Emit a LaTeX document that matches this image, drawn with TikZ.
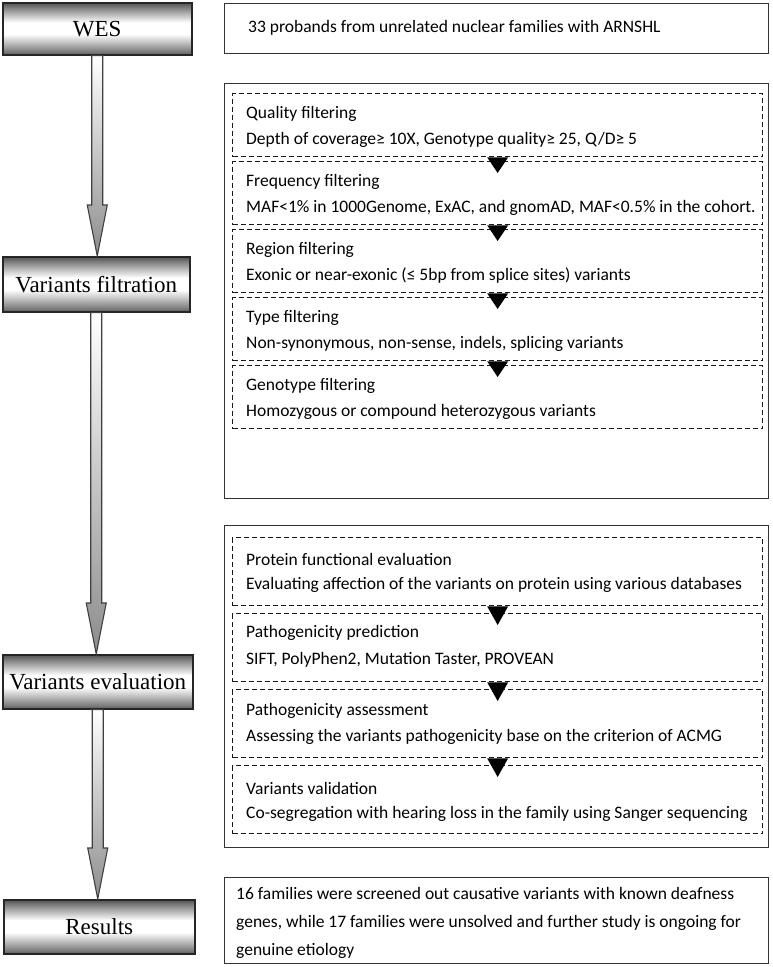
\documentclass[tikz,border=0pt]{standalone}
\usepackage{fontspec}
\setmainfont{Carlito}
\newfontfamily\serifl{Liberation Serif}
\usetikzlibrary{calc}
\pgfdeclareverticalshading{boxshade}{100bp}{color(0bp)=(black!70); color(25bp)=(black!70); color(27bp)=(black!55); color(35bp)=(black!30); color(45bp)=(white); color(56bp)=(white); color(69bp)=(black!45); color(75bp)=(black!68); color(100bp)=(black!68)}
\newcommand\stagearrow[2]{%
  \path[bigarrow] let \p1=(#1.south), \p2=(#2.north) in
    (\x1-5.5pt,\y1) -- (\x1+5.5pt,\y1) -- (\x1+5.5pt,\y2+51pt) -- (\x1+10pt,\y2+51pt)
    -- (\x1,\y2) -- (\x1-10pt,\y2+51pt) -- (\x1-5.5pt,\y2+51pt) -- cycle;}
\newcommand\steptri[2]{%
  \fill let \p1=(#1.south), \p2=(#2.north) in
    (\x1-10.5pt,\y1) -- (\x1+10.5pt,\y1) -- (\x1,\y2-12pt) -- cycle;}
\begin{document}
\begin{tikzpicture}[x=1pt,y=-1pt,
  stage/.style={draw=black!85, line width=1.5pt, shade, shading=boxshade, anchor=north west,
    inner sep=0pt, font=\serifl\fontsize{23}{27}\selectfont},
  panel/.style={draw=black!80, line width=1.4pt, anchor=north west, inner sep=0pt, minimum width=544pt},
  dbox/.style={draw=black!90, line width=1.3pt, dash pattern=on 5pt off 3pt, anchor=north west,
    inner sep=0pt, minimum width=530pt},
  txt/.style={anchor=west, inner sep=0pt, font=\fontsize{17.5}{20}\selectfont},
  bigarrow/.style={draw=black!75, line width=1.1pt, top color=white, bottom color=black!45}
]
\useasboundingbox (0,0) rectangle (772,967);

% left stages
\node[stage, minimum width=189pt, minimum height=52pt] (wes) at (2,2) {WES};
\node[stage, minimum width=187pt, minimum height=55pt] (vf) at (2,256) {Variants filtration};
\node[stage, minimum width=190pt, minimum height=54pt] (ve) at (2,654) {Variants evaluation};
\node[stage, minimum width=191pt, minimum height=54pt] (rs) at (3,899) {Results};

\stagearrow{wes}{vf}
\stagearrow{vf}{ve}
\stagearrow{ve}{rs}

% right panels
\node[panel, minimum height=50pt] (top) at (224,3) {};
\node[txt] (toptxt) at (248,28) {33 probands from unrelated nuclear families with ARNSHL};

\node[panel, minimum height=415pt] (filt) at (224,83) {};
\node[dbox, minimum height=63pt] (f1) at (232,93) {};
\node[dbox, minimum height=63pt] (f2) at (232,161) {};
\node[dbox, minimum height=63pt] (f3) at (232,229) {};
\node[dbox, minimum height=63pt] (f4) at (232,297) {};
\node[dbox, minimum height=63pt] (f5) at (232,365) {};
\node[txt] (f1a) at (246,114) {Quality filtering};
\node[txt] (f1b) at (246,140) {Depth of coverage≥ 10X, Genotype quality≥ 25, Q/D≥ 5};
\node[txt] (f2a) at (246,182) {Frequency filtering};
\node[txt] (f2b) at (246,208) {MAF<1\% in 1000Genome, ExAC, and gnomAD, MAF<0.5\% in the cohort.};
\node[txt] (f3a) at (246,250) {Region filtering};
\node[txt] (f3b) at (246,276) {Exonic or near-exonic (≤ 5bp from splice sites) variants};
\node[txt] (f4a) at (246,318) {Type filtering};
\node[txt] (f4b) at (246,344) {Non-synonymous, non-sense, indels, splicing variants};
\node[txt] (f5a) at (246,386) {Genotype filtering};
\node[txt] (f5b) at (246,412) {Homozygous or compound heterozygous variants};
\steptri{f1}{f2}
\steptri{f2}{f3}
\steptri{f3}{f4}
\steptri{f4}{f5}

\node[panel, minimum height=322pt] (eval) at (224,525) {};
\node[dbox, minimum height=68pt] (e1) at (232,537) {};
\node[dbox, minimum height=68pt] (e2) at (232,613) {};
\node[dbox, minimum height=68pt] (e3) at (232,689) {};
\node[dbox, minimum height=68pt] (e4) at (232,765) {};
\node[txt] (e1a) at (246,559) {Protein functional evaluation};
\node[txt] (e1b) at (246,585) {Evaluating affection of the variants on protein using various databases};
\node[txt] (e2a) at (246,633) {Pathogenicity prediction};
\node[txt] (e2b) at (246,660) {SIFT, PolyPhen2, Mutation Taster, PROVEAN};
\node[txt] (e3a) at (246,711) {Pathogenicity assessment};
\node[txt] (e3b) at (246,737) {Assessing the variants pathogenicity base on the criterion of ACMG};
\node[txt] (e4a) at (246,788) {Variants validation};
\node[txt] (e4b) at (246,814) {Co-segregation with hearing loss in the family using Sanger sequencing};
\steptri{e1}{e2}
\steptri{e2}{e3}
\steptri{e3}{e4}

\node[panel, minimum height=86pt] (res) at (224,877) {};
\node[txt, anchor=north west, align=left, font=\fontsize{17.5}{28}\selectfont] (restxt) at (236,887)
  {16 families were screened out causative variants with known deafness\\
   genes, while 17 families were unsolved and further study is ongoing for\\
   genuine etiology};
\end{tikzpicture}
\end{document}
